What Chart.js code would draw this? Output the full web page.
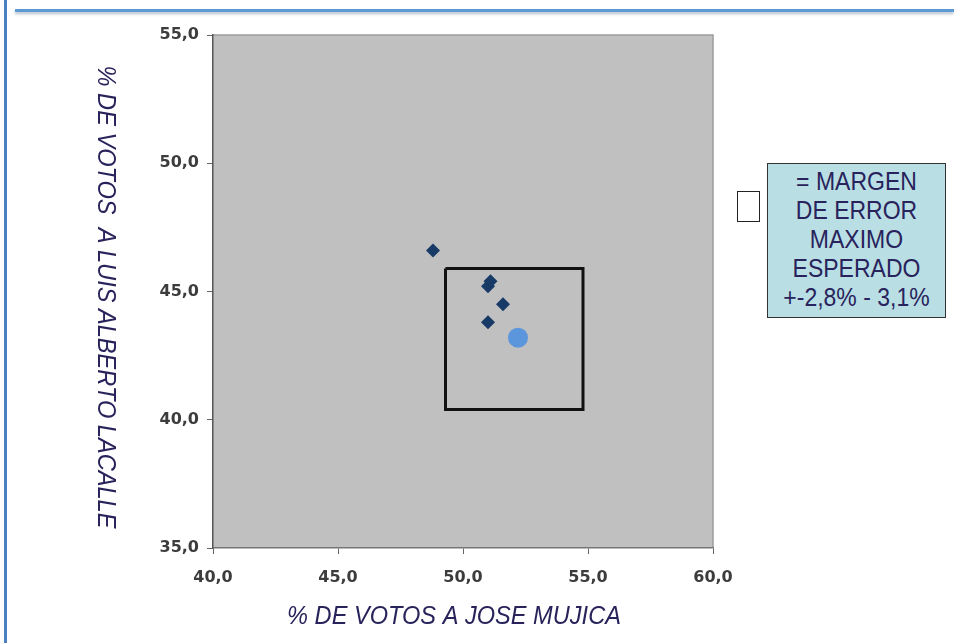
<!DOCTYPE html>
<html>
<head>
<meta charset="utf-8">
<script src="https://cdn.jsdelivr.net/npm/chart.js@4.4.1/dist/chart.umd.min.js"></script>
<style>
  body { margin: 0; background: #fff; }
  #wrap { position: relative; width: 954px; height: 643px; overflow: hidden; }
  #chart { position: absolute; left: 0; top: 0; }
  .frame-left { position: absolute; left: 4px; top: 0; width: 3px; height: 643px; background: #4a7fc1; }
  .frame-top { position: absolute; left: 15px; top: 9px; width: 939px; height: 3px; background: #5b9bd5; box-shadow: 0 2px 3px rgba(90,110,140,0.45); }
  .key { position: absolute; left: 737px; top: 191px; width: 21px; height: 29px; border: 1.5px solid #222; background: #fff; }
  .note { position: absolute; left: 767px; top: 163px; width: 179px; height: 155px; border: 1.5px solid #333;
          background: #b9dfe4; box-sizing: border-box; overflow: hidden; }
  .note div { color: #28235c; font: 23px "Liberation Sans", Arial, sans-serif; text-align: center;
              line-height: 26px; padding-top: 2px; transform: scaleY(1.12); transform-origin: 50% 0; }
</style>
</head>
<body>
<div id="wrap">
  <canvas id="chart" width="954" height="643"></canvas>
  <div class="frame-left"></div>
  <div class="frame-top"></div>
  <div class="key"></div>
  <div class="note"><div>= MARGEN<br>DE ERROR<br>MAXIMO<br>ESPERADO<br>+-2,8% - 3,1%</div></div>
</div>
<script>
// encuestas (diamantes)
const mujicaPct = [48.8, 51.0, 51.1, 51.6, 51.0]
const lacallePct = [46.6, 45.2, 45.4, 44.5, 43.8]
// resultado (circulo)
const resultMujica = [52.2]
const resultLacalle = [43.2]
// recuadro del margen de error
const marginX = [49.3, 54.8, 54.8, 49.3, 49.3]
const marginY = [45.9, 45.9, 40.4, 40.4, 45.9]

const xTitle = "% DE VOTOS A JOSE MUJICA"
const yTitle = "% DE VOTOS  A LUIS ALBERTO LACALLE"
const xMin = 40, xMax = 60, yMin = 35, yMax = 55, tickStep = 5

function toPoints(xs, ys){
    return xs.map((x, i) => ({x: x, y: ys[i]}))
}

const tickFmt = (v) => v.toFixed(1).replace(".", ",")

function drawTitle(ctx, text, x, y, angle){
    ctx.save()
    ctx.translate(x, y)
    ctx.rotate(angle)
    ctx.scale(1, 1.1)
    ctx.font = "italic 23.6px 'Liberation Sans', Arial, sans-serif"
    ctx.fillStyle = "#28235a"
    ctx.textAlign = "center"
    ctx.textBaseline = "middle"
    ctx.fillText(text, 0, 0)
    ctx.restore()
}

const plotBg = {
    id: "plotBg",
    beforeDraw(chart){
        const {ctx, chartArea: a} = chart
        ctx.save()
        ctx.fillStyle = "#c0c0c0"
        ctx.fillRect(a.left, a.top, a.right - a.left, a.bottom - a.top)
        ctx.strokeStyle = "#9c9c9c"
        ctx.lineWidth = 1.5
        ctx.beginPath()
        ctx.moveTo(a.left, a.top)
        ctx.lineTo(a.right, a.top)
        ctx.lineTo(a.right, a.bottom)
        ctx.stroke()
        ctx.restore()
    },
    afterDraw(chart){
        const {ctx, chartArea: a} = chart
        drawTitle(ctx, xTitle, 454, 617, 0)
        // y title reads top to bottom
        drawTitle(ctx, yTitle, 105, 297, Math.PI / 2)
    }
}

const tickFont = {family: "'DejaVu Sans', Verdana, sans-serif", size: 16, weight: "bold"}

new Chart(document.getElementById("chart").getContext("2d"), {
    type: "scatter",
    data: {
        datasets: [{
            label: "margen",
            data: toPoints(marginX, marginY),
            showLine: true,
            borderColor: "#111",
            borderWidth: 3,
            pointRadius: 0,
            fill: false,
            order: 3
        }, {
            label: "encuestas",
            data: toPoints(mujicaPct, lacallePct),
            pointStyle: "rectRot",
            pointRadius: 7,
            backgroundColor: "#173a66",
            borderColor: "#173a66",
            borderWidth: 0,
            order: 1
        }, {
            label: "resultado",
            data: toPoints(resultMujica, resultLacalle),
            pointStyle: "circle",
            pointRadius: 10,
            backgroundColor: "#5b95dc",
            borderColor: "#5b95dc",
            borderWidth: 0,
            order: 2
        }]
    },
    options: {
        responsive: false,
        animation: false,
        layout: {padding: {top: 35, right: 241, left: 0, bottom: 0}},
        plugins: {
            legend: {display: false},
            tooltip: {enabled: false}
        },
        scales: {
            x: {
                min: xMin, max: xMax,
                ticks: {stepSize: tickStep, callback: tickFmt, color: "#3c3c3c", padding: 14, font: tickFont},
                grid: {drawOnChartArea: false, drawTicks: true, tickLength: 6, color: "#666"},
                border: {color: "#777", width: 1.5},
                afterFit(scale){ scale.height = 95 }
            },
            y: {
                min: yMin, max: yMax,
                ticks: {stepSize: tickStep, callback: tickFmt, color: "#3c3c3c", padding: 8, font: tickFont},
                grid: {drawOnChartArea: false, drawTicks: true, tickLength: 6, color: "#666"},
                border: {color: "#555", width: 1.5},
                afterFit(scale){ scale.width = 213 }
            }
        }
    },
    plugins: [plotBg]
})
</script>
</body>
</html>
